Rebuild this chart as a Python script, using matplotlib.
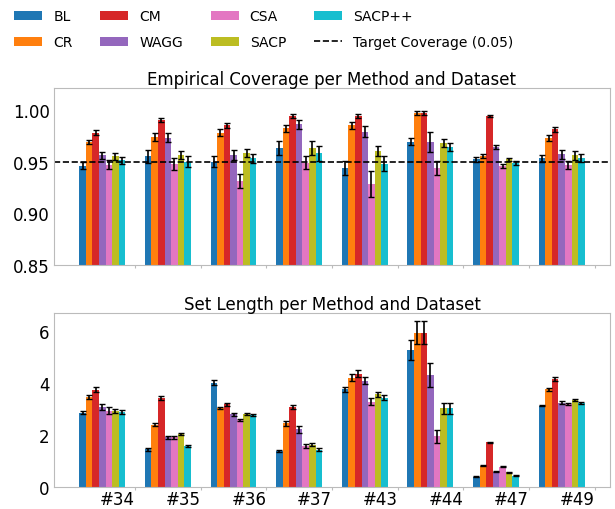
import numpy as np
import matplotlib
matplotlib.use("Agg")
import matplotlib.pyplot as plt
from matplotlib.lines import Line2D

datasets = ["#34", "#35", "#36", "#37", "#43", "#44", "#47", "#49"]
methods = ["BL", "CR", "CM", "WAGG", "CSA", "SACP", "SACP++"]
colors = ["#1f77b4", "#ff7f0e", "#d62728", "#9467bd", "#e377c2", "#bcbd22", "#17becf"]

# Coverage means (rows: methods, cols: datasets)
cov_BL     = [0.946, 0.955, 0.950, 0.963, 0.944, 0.969, 0.952, 0.953]
cov_CR     = [0.969, 0.974, 0.978, 0.982, 0.985, 0.997, 0.955, 0.973]
cov_CM     = [0.978, 0.990, 0.985, 0.994, 0.994, 0.997, 0.994, 0.981]
cov_WAGG   = [0.956, 0.973, 0.956, 0.986, 0.979, 0.969, 0.964, 0.957]
cov_CSA    = [0.947, 0.948, 0.931, 0.949, 0.928, 0.944, 0.946, 0.947]
cov_SACP   = [0.955, 0.956, 0.958, 0.963, 0.960, 0.968, 0.952, 0.956]
cov_SACPpp = [0.951, 0.950, 0.953, 0.958, 0.948, 0.964, 0.949, 0.953]

cov_err_BL     = [0.0032, 0.0065, 0.0052, 0.0068, 0.0066, 0.0035, 0.0021, 0.0035]
cov_err_CR     = [0.0020, 0.0037, 0.0035, 0.0037, 0.0035, 0.0016, 0.0019, 0.0029]
cov_err_CM     = [0.0020, 0.0016, 0.0027, 0.0018, 0.0020, 0.0016, 0.0010, 0.0021]
cov_err_WAGG   = [0.0034, 0.0045, 0.0048, 0.0045, 0.0052, 0.0098, 0.0023, 0.0045]
cov_err_CSA    = [0.0047, 0.0058, 0.0069, 0.0066, 0.0124, 0.0068, 0.0019, 0.0039]
cov_err_SACP   = [0.0035, 0.0040, 0.0040, 0.0066, 0.0050, 0.0040, 0.0018, 0.0044]
cov_err_SACPpp = [0.0032, 0.0056, 0.0042, 0.0073, 0.0073, 0.0039, 0.0019, 0.0039]

# Set length means
len_BL     = [2.85, 1.43, 4.00, 1.37, 3.74, 5.26, 0.37, 3.12]
len_CR     = [3.46, 2.39, 3.02, 2.44, 4.19, 5.92, 0.80, 3.74]
len_CM     = [3.73, 3.40, 3.17, 3.08, 4.35, 5.92, 1.71, 4.15]
len_WAGG   = [3.06, 1.89, 2.78, 2.21, 4.07, 4.29, 0.58, 3.23]
len_CSA    = [2.92, 1.89, 2.56, 1.56, 3.27, 1.93, 0.76, 3.18]
len_SACP   = [2.92, 2.02, 2.78, 1.62, 3.55, 3.01, 0.55, 3.34]
len_SACPpp = [2.88, 1.56, 2.74, 1.42, 3.42, 3.01, 0.42, 3.21]

len_err_BL     = [0.06, 0.045, 0.09, 0.05, 0.114, 0.39, 0.02, 0.03]
len_err_CR     = [0.076, 0.05, 0.05, 0.10, 0.127, 0.44, 0.015, 0.05]
len_err_CM     = [0.095, 0.076, 0.057, 0.076, 0.127, 0.44, 0.015, 0.076]
len_err_WAGG   = [0.114, 0.076, 0.057, 0.14, 0.133, 0.46, 0.015, 0.063]
len_err_CSA    = [0.127, 0.063, 0.05, 0.063, 0.14, 0.25, 0.02, 0.04]
len_err_SACP   = [0.08, 0.04, 0.04, 0.07, 0.10, 0.21, 0.015, 0.05]
len_err_SACPpp = [0.08, 0.025, 0.04, 0.063, 0.09, 0.21, 0.015, 0.04]

target = 0.95

cov = [cov_BL, cov_CR, cov_CM, cov_WAGG, cov_CSA, cov_SACP, cov_SACPpp]
cov_err = [cov_err_BL, cov_err_CR, cov_err_CM, cov_err_WAGG, cov_err_CSA, cov_err_SACP, cov_err_SACPpp]
lens = [len_BL, len_CR, len_CM, len_WAGG, len_CSA, len_SACP, len_SACPpp]
len_err = [len_err_BL, len_err_CR, len_err_CM, len_err_WAGG, len_err_CSA, len_err_SACP, len_err_SACPpp]

fig = plt.figure(figsize=(6.15, 5.1), dpi=100)
ax1 = fig.add_axes([0.0878, 0.4784, 0.904, 0.347])
ax2 = fig.add_axes([0.0878, 0.0440, 0.904, 0.340])

x = np.arange(len(datasets))
width = 0.1
spine_col = "#bbbbbb"

for ax, vals, errs in [(ax1, cov, cov_err), (ax2, lens, len_err)]:
    for i, (m, c) in enumerate(zip(methods, colors)):
        ax.bar(x + i * width, vals[i], width, yerr=errs[i], color=c, label=m,
               error_kw=dict(ecolor="black", elinewidth=1.2, capsize=2.5, capthick=1.0))
    for s in ax.spines.values():
        s.set_color(spine_col)
    ax.tick_params(axis="y", length=0, labelsize=12, pad=3)
    ax.tick_params(axis="x", length=2, color=spine_col, labelsize=12, pad=0.5)
    ax.set_xticks(x + 0.8)

ax1.axhline(target, color="black", linestyle="--", linewidth=1.2)
ax1.set_ylim(0.85, 1.021)
ax1.set_yticks([0.85, 0.90, 0.95, 1.00])
ax1.set_xticklabels([])
ax1.set_title("Empirical Coverage per Method and Dataset", fontsize=12, pad=2)

ax2.set_ylim(0, 6.68)
ax2.set_yticks([0, 2, 4, 6])
ax2.set_xticklabels(datasets, ha="right")
ax2.set_title("Set Length per Method and Dataset", fontsize=12, pad=2)

handles, labels = ax1.get_legend_handles_labels()
handles.append(Line2D([0], [0], color="black", linestyle="--", linewidth=1.2))
labels.append("Target Coverage (0.05)")
fig.legend(handles, labels, ncol=4, loc="upper left", bbox_to_anchor=(0.003, 1.004),
           frameon=False, fontsize=10, columnspacing=2.0, labelspacing=0.85)

fig.savefig("out.png", dpi=100)
